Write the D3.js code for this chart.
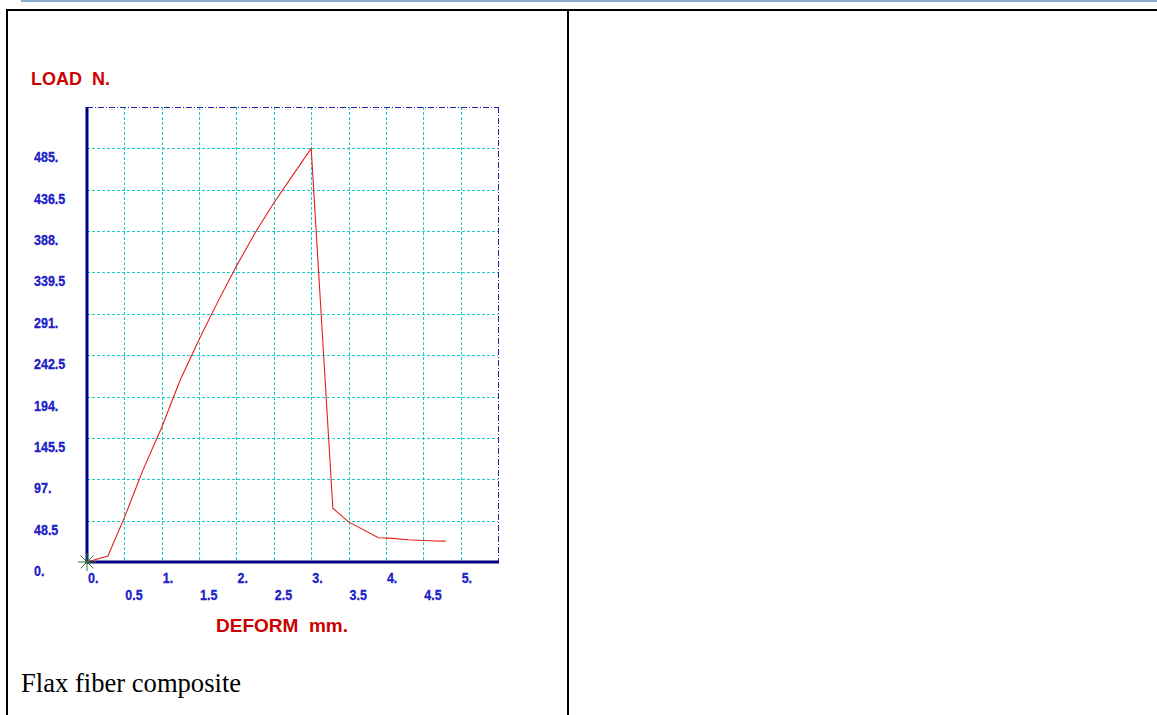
<!DOCTYPE html>
<html>
<head>
<meta charset="utf-8">
<script src="https://cdn.jsdelivr.net/npm/d3@7"></script>
<style>
  html, body { margin: 0; padding: 0; background: #fff; }
  svg { display: block; }
</style>
</head>
<body>
<svg id="page" width="1157" height="715"></svg>
<script>
// Load–deformation test record
const deformMm = [0, 0.28, 0.5, 0.75, 1.0, 1.25, 1.5, 1.75, 2.0, 2.25, 2.5, 2.75, 3.0, 3.29, 3.5, 3.9, 4.05, 4.3, 4.65, 4.8];
const loadN    = [0, 7, 52, 108, 158, 214, 261, 305, 347, 386, 421, 453, 485, 63, 47, 28.5, 28, 26, 24.6, 24.5];

// Axis tick values and their printed labels
const xTickMajor = [0, 1, 2, 3, 4, 5];
const xTickMajorLabels = ["0.", "1.", "2.", "3.", "4.", "5."];
const xTickMinor = [0.5, 1.5, 2.5, 3.5, 4.5];
const xTickMinorLabels = ["0.5", "1.5", "2.5", "3.5", "4.5"];
const yTicks = [0, 48.5, 97, 145.5, 194, 242.5, 291, 339.5, 388, 436.5, 485];
const yTickLabels = ["0.", "48.5", "97.", "145.5", "194.", "242.5", "291.", "339.5", "388.", "436.5", "485."];
const xGrid = [0.5, 1, 1.5, 2, 2.5, 3, 3.5, 4, 4.5, 5];
const yGrid = [48.5, 97, 145.5, 194, 242.5, 291, 339.5, 388, 436.5, 485];

const svg = d3.select("#page");

// Document frame: thin blue rule and table borders
svg.append("rect").attr("x", 21).attr("y", 0).attr("width", 1136).attr("height", 2).attr("fill", "#86acce");
svg.append("rect").attr("x", 6).attr("y", 9).attr("width", 1151).attr("height", 2).attr("fill", "#000");
svg.append("rect").attr("x", 6).attr("y", 9).attr("width", 2).attr("height", 706).attr("fill", "#000");
svg.append("rect").attr("x", 567).attr("y", 9).attr("width", 2).attr("height", 706).attr("fill", "#000");

// Plot geometry
const plotLeft = 87, plotRight = 498, plotTop = 107, plotBottom = 562;
const x = d3.scaleLinear().domain([0, 5.5]).range([plotLeft, plotRight]);
const y = d3.scaleLinear().domain([0, 533.5]).range([plotBottom, plotTop]);

const navy = "#000080";
const tickBlue = "#2020c8";
const red = "#cc0000";

// Grid
const grid = svg.append("g").attr("stroke", "#18cccc").attr("stroke-width", 1).attr("stroke-dasharray", "3,2").attr("shape-rendering", "crispEdges");
grid.selectAll("line.v").data(xGrid).join("line").attr("class", "v")
  .attr("x1", d => Math.round(x(d)) + 0.5).attr("x2", d => Math.round(x(d)) + 0.5)
  .attr("y1", plotTop).attr("y2", plotBottom);
grid.selectAll("line.h").data(yGrid).join("line").attr("class", "h")
  .attr("x1", plotLeft).attr("x2", plotRight)
  .attr("y1", d => Math.round(y(d)) + 0.5).attr("y2", d => Math.round(y(d)) + 0.5);

// Dash-dot frame on top and right
const frame = svg.append("g").attr("stroke", "#2424b0").attr("stroke-width", 1).attr("stroke-dasharray", "6,2,1,2").attr("fill", "none").attr("shape-rendering", "crispEdges");
frame.append("line").attr("x1", plotLeft).attr("x2", plotRight + 0.5).attr("y1", plotTop + 0.5).attr("y2", plotTop + 0.5);
frame.append("line").attr("x1", plotRight + 0.5).attr("x2", plotRight + 0.5).attr("y1", plotTop).attr("y2", plotBottom);

// Solid axes
svg.append("line").attr("x1", plotLeft).attr("x2", plotLeft).attr("y1", plotTop).attr("y2", plotBottom + 1.5)
  .attr("stroke", navy).attr("stroke-width", 3);
svg.append("line").attr("x1", plotLeft - 1.5).attr("x2", plotRight + 1).attr("y1", plotBottom).attr("y2", plotBottom)
  .attr("stroke", navy).attr("stroke-width", 3);

// Tick labels
function label(g, txt, px, py, size, sy) {
  g.append("text")
    .attr("transform", `translate(${px},${py}) scale(1,${sy})`)
    .attr("font-family", "'Liberation Sans', Arial, sans-serif")
    .attr("font-weight", "bold")
    .attr("font-size", size)
    .attr("fill", tickBlue)
    .attr("stroke", tickBlue)
    .attr("stroke-width", 0.25)
    .text(txt);
}
const yl = svg.append("g");
yTicks.forEach((v, i) => label(yl, yTickLabels[i], 34, y(v) + 14, 12.5, 1.2));
const xl = svg.append("g");
xTickMajor.forEach((v, i) => label(xl, xTickMajorLabels[i], x(v) + 1, 583, 12.5, 1.2));
xTickMinor.forEach((v, i) => label(xl, xTickMinorLabels[i], x(v) + 1, 600, 12.5, 1.2));

// Axis titles
svg.append("text").attr("x", 31).attr("y", 85)
  .attr("font-family", "'Liberation Sans', Arial, sans-serif").attr("font-weight", "bold")
  .attr("font-size", 18).attr("fill", red).attr("xml:space", "preserve")
  .text("LOAD  N.");
svg.append("text").attr("x", 282).attr("y", 632).attr("text-anchor", "middle")
  .attr("font-family", "'Liberation Sans', Arial, sans-serif").attr("font-weight", "bold")
  .attr("font-size", 19).attr("fill", red).attr("xml:space", "preserve")
  .text("DEFORM  mm.");

// Load curve
const line = d3.line().x((d, i) => x(deformMm[i])).y(d => y(d));
svg.append("path").datum(loadN).attr("d", line)
  .attr("fill", "none").attr("stroke", "#e41c1c").attr("stroke-width", 1.1);

// Origin marker (asterisk)
const star = svg.append("g").attr("transform", `translate(${x(0)},${y(0)})`)
  .attr("stroke", "#2e7a3a").attr("stroke-width", 1);
[0, 45, 90, 135].forEach(a => {
  const r = 9, t = a * Math.PI / 180;
  star.append("line").attr("x1", -r * Math.cos(t)).attr("y1", -r * Math.sin(t))
    .attr("x2", r * Math.cos(t)).attr("y2", r * Math.sin(t));
});

// Caption
svg.append("text").attr("x", 21).attr("y", 692)
  .attr("font-family", "'Liberation Serif', 'Times New Roman', serif")
  .attr("font-size", 26.6).attr("fill", "#000")
  .text("Flax fiber composite");
</script>
</body>
</html>
